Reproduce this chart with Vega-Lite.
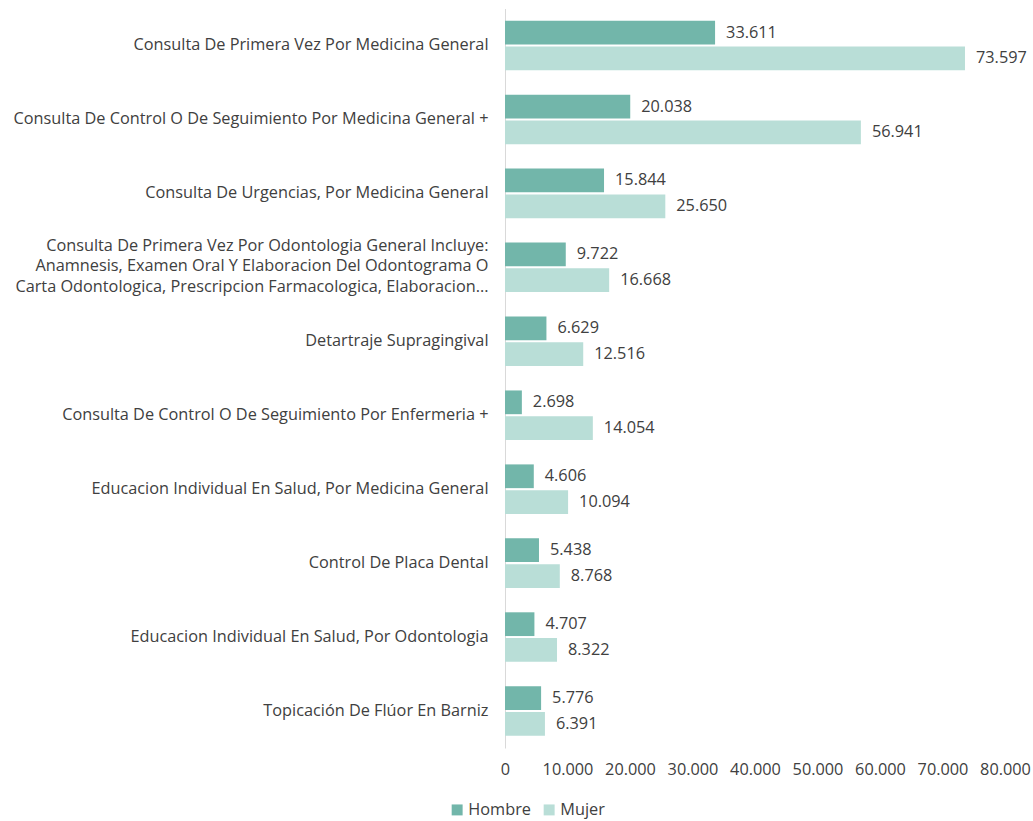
{
  "$schema": "https://vega.github.io/schema/vega-lite/v6.json",
  "autosize": "none",
  "width": 500,
  "height": 739.5,
  "padding": {"left": 505, "top": 8.5, "right": 28, "bottom": 73},
  "background": "white",
  "config": {
    "font": "Open Sans",
    "view": {"stroke": null},
    "locale": {"number": {"decimal": ",", "thousands": ".", "grouping": [3], "currency": ["$", ""]}}
  },
  "data": {
    "values": [
      {"order": 1, "cat": "Consulta De Primera Vez Por Medicina General", "serie": "Hombre", "valor": 33611},
      {"order": 1, "cat": "Consulta De Primera Vez Por Medicina General", "serie": "Mujer", "valor": 73597},
      {"order": 2, "cat": "Consulta De Control O De Seguimiento Por Medicina General +", "serie": "Hombre", "valor": 20038},
      {"order": 2, "cat": "Consulta De Control O De Seguimiento Por Medicina General +", "serie": "Mujer", "valor": 56941},
      {"order": 3, "cat": "Consulta De Urgencias, Por Medicina General", "serie": "Hombre", "valor": 15844},
      {"order": 3, "cat": "Consulta De Urgencias, Por Medicina General", "serie": "Mujer", "valor": 25650},
      {"order": 4, "cat": "Consulta De Primera Vez Por Odontologia General Incluye:|Anamnesis, Examen Oral Y Elaboracion Del Odontograma O|Carta Odontologica, Prescripcion Farmacologica, Elaboracion...", "serie": "Hombre", "valor": 9722},
      {"order": 4, "cat": "Consulta De Primera Vez Por Odontologia General Incluye:|Anamnesis, Examen Oral Y Elaboracion Del Odontograma O|Carta Odontologica, Prescripcion Farmacologica, Elaboracion...", "serie": "Mujer", "valor": 16668},
      {"order": 5, "cat": "Detartraje Supragingival", "serie": "Hombre", "valor": 6629},
      {"order": 5, "cat": "Detartraje Supragingival", "serie": "Mujer", "valor": 12516},
      {"order": 6, "cat": "Consulta De Control O De Seguimiento Por Enfermeria +", "serie": "Hombre", "valor": 2698},
      {"order": 6, "cat": "Consulta De Control O De Seguimiento Por Enfermeria +", "serie": "Mujer", "valor": 14054},
      {"order": 7, "cat": "Educacion Individual En Salud, Por Medicina General", "serie": "Hombre", "valor": 4606},
      {"order": 7, "cat": "Educacion Individual En Salud, Por Medicina General", "serie": "Mujer", "valor": 10094},
      {"order": 8, "cat": "Control De Placa Dental", "serie": "Hombre", "valor": 5438},
      {"order": 8, "cat": "Control De Placa Dental", "serie": "Mujer", "valor": 8768},
      {"order": 9, "cat": "Educacion Individual En Salud, Por Odontologia", "serie": "Hombre", "valor": 4707},
      {"order": 9, "cat": "Educacion Individual En Salud, Por Odontologia", "serie": "Mujer", "valor": 8322},
      {"order": 10, "cat": "Topicación De Flúor En Barniz", "serie": "Hombre", "valor": 5776},
      {"order": 10, "cat": "Topicación De Flúor En Barniz", "serie": "Mujer", "valor": 6391}
    ]
  },
  "encoding": {
    "y": {
      "field": "cat",
      "type": "nominal",
      "sort": {"field": "order", "op": "min"},
      "scale": {"paddingInner": 0.33, "paddingOuter": 0.165},
      "axis": {
        "title": null,
        "ticks": false,
        "domainColor": "#d9d9d9",
        "labelPadding": 17,
        "labelFontSize": 16.3,
        "labelColor": "#404040",
        "labelLimit": 520,
        "labelLineHeight": 20.5,
        "labelAlign": "right",
        "labelOffset": {"condition": {"test": "indexof(datum.label, '|') >= 0", "value": -21.5}, "value": 0},
        "labelExpr": "split(datum.label, '|')"
      }
    },
    "yOffset": {"field": "serie", "type": "nominal", "sort": ["Hombre", "Mujer"], "scale": {"paddingInner": 0.08}},
    "x": {
      "field": "valor",
      "type": "quantitative",
      "scale": {"domain": [0, 80000], "nice": false},
      "axis": {
        "title": null,
        "grid": false,
        "domain": false,
        "ticks": false,
        "values": [0, 10000, 20000, 30000, 40000, 50000, 60000, 70000, 80000],
        "format": ",d",
        "labelOverlap": false,
        "labelFlush": false,
        "labelPadding": 13,
        "labelFontSize": 16.3,
        "labelColor": "#404040"
      }
    }
  },
  "layer": [
    {
      "mark": {"type": "bar"},
      "encoding": {
        "color": {
          "field": "serie",
          "type": "nominal",
          "sort": ["Hombre", "Mujer"],
          "scale": {"domain": ["Hombre", "Mujer"], "range": ["#72b6aa", "#b9ded7"]},
          "legend": {
            "title": null,
            "orient": "none",
            "direction": "horizontal",
            "legendX": -56,
            "legendY": 793,
            "symbolType": "square",
            "symbolSize": 120,
            "labelFontSize": 16.3,
            "labelColor": "#404040",
            "columnPadding": 10,
            "labelOffset": 3
          }
        }
      }
    },
    {
      "mark": {"type": "text", "align": "left", "baseline": "middle", "dx": 11, "fontSize": 16.3, "color": "#404040"},
      "encoding": {
        "text": {"field": "valor", "type": "quantitative", "format": ",d"}
      }
    }
  ]
}
